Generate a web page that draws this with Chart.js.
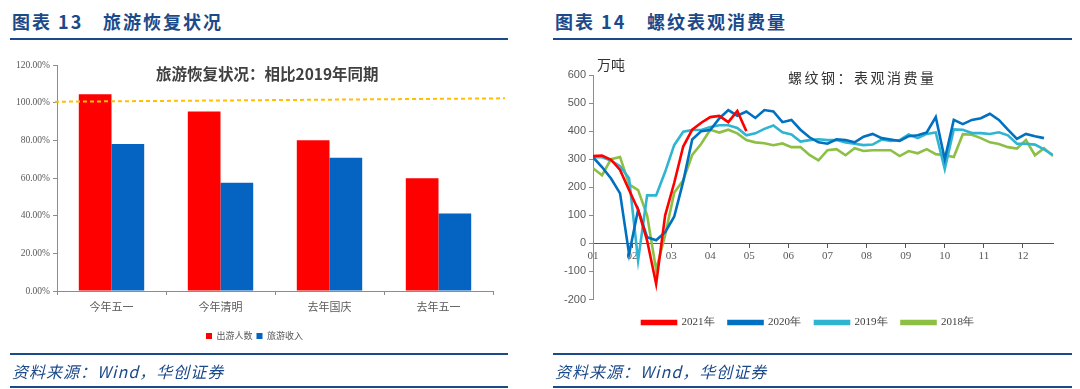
<!DOCTYPE html>
<html>
<head>
<meta charset="utf-8">
<script src="https://cdn.jsdelivr.net/npm/chart.js@4.4.1/dist/chart.umd.min.js"></script>
<style>
  body { margin: 0; width: 1080px; height: 389px; background: #fff; position: relative; overflow: hidden; }
  .hd { position: absolute; top: 8px; font: bold 18px "Noto Sans CJK SC", sans-serif; color: #1b4a8a; white-space: pre; letter-spacing: 2px; }
  .rule { position: absolute; height: 2px; background: #1b4a8a; }
  .src { position: absolute; top: 359px; font: italic 16px "Noto Sans CJK SC", serif; color: #1b4a8a; letter-spacing: 1px; }
  .box { position: absolute; top: 45px; }
  .inner { position: absolute; color: #404040; white-space: nowrap; }
</style>
</head>
<body>
<div class="hd" style="left:12px">图表 13</div>
<div class="hd" style="left:103px">旅游恢复状况</div>
<div class="rule" style="left:10px;width:498px;top:38px"></div>
<div class="hd" style="left:555px">图表 14</div>
<div class="hd" style="left:647px">螺纹表观消费量</div>
<div class="rule" style="left:553px;width:519px;top:38px"></div>

<div class="box" style="left:10px;width:500px;height:310px"><canvas id="barChart"></canvas></div>
<div class="box" style="left:553px;width:519px;height:305px"><canvas id="lineChart"></canvas></div>

<div class="inner" style="left:156px;top:62px;font:bold 15.5px 'Noto Sans CJK SC'">旅游恢复状况：相比2019年同期</div>
<div class="inner" style="left:788px;top:67px;font:14px 'Noto Sans CJK SC';letter-spacing:2.5px;color:#333">螺纹钢：表观消费量</div>
<div class="inner" style="left:597px;top:54px;font:14px 'Noto Sans CJK SC';color:#333">万吨</div>

<div class="rule" style="left:10px;width:498px;top:353px"></div>
<div class="src" style="left:12px">资料来源：Wind，华创证券</div>
<div class="rule" style="left:10px;width:498px;top:386px"></div>
<div class="rule" style="left:553px;width:519px;top:353px"></div>
<div class="src" style="left:555px">资料来源：Wind，华创证券</div>
<div class="rule" style="left:553px;width:519px;top:386px"></div>

<script>
// 旅游恢复状况 (相比2019年同期, %)
const barCats = ["今年五一", "今年清明", "去年国庆", "去年五一"];
const visitors = [104.5, 95.3, 80.0, 59.9];
const revenue = [78.0, 57.5, 70.8, 41.2];
const refLine = [100.5, 102.3]; // 100% dotted reference, slightly tilted

// 螺纹钢表观消费量 (万吨, weekly)
const monthLabels = ["01", "02", "03", "04", "05", "06", "07", "08", "09", "10", "11", "12"];
const s2021 = [311, 313, 298, 262, 190, 120, 10, -145, 100, 215, 345, 405, 430, 450, 454, 432, 472, 400];
const s2020 = [307, 272, 231, 178, -38, 120, 22, 11, 40, 95, 220, 370, 400, 404, 445, 475, 455, 470, 447, 475,
  470, 432, 440, 405, 378, 360, 355, 371, 368, 360, 380, 390, 375, 370, 365, 382, 385, 395, 450, 300,
  440, 425, 440, 446, 462, 440, 405, 372, 390, 382, 375];
const s2019 = [307, 307, 295, 275, 232, -61, 171, 171, 255, 350, 398, 404, 404, 415, 421, 421, 411, 385, 392, 408,
  420, 396, 388, 363, 368, 371, 368, 368, 360, 355, 350, 352, 370, 365, 368, 388, 375, 390, 395, 265,
  406, 405, 393, 393, 390, 396, 385, 355, 355, 352, 335, 315];
const s2018 = [268, 243, 300, 308, 210, 190, 100, -95, 30, 180, 225, 315, 355, 405, 395, 405, 392, 368, 360, 357,
  350, 356, 343, 343, 315, 296, 332, 336, 314, 339, 329, 332, 332, 332, 311, 329, 321, 336, 318, 314,
  308, 389, 387, 375, 360, 354, 343, 338, 368, 314, 339, 311];

const grey = "#595959";
const axisGrey = "#8c8c8c";

// dotted 100% line across the bar chart
const refLinePlugin = {
  id: "refLine",
  afterDatasetsDraw(chart) {
    const { ctx, chartArea, scales } = chart;
    ctx.save();
    ctx.strokeStyle = "#ffc000";
    ctx.lineWidth = 2;
    ctx.setLineDash([4, 3]);
    ctx.beginPath();
    ctx.moveTo(chartArea.left - 2, scales.y.getPixelForValue(refLine[0]));
    ctx.lineTo(chartArea.right + 12, scales.y.getPixelForValue(refLine[1]));
    ctx.stroke();
    ctx.restore();
  },
};

new Chart(document.getElementById("barChart"), {
  type: "bar",
  data: {
    labels: barCats,
    datasets: [
      { label: "出游人数", data: visitors, backgroundColor: "#ff0000" },
      { label: "旅游收入", data: revenue, backgroundColor: "#0563c1" },
    ],
  },
  options: {
    responsive: true,
    maintainAspectRatio: false,
    animation: false,
    layout: { padding: { top: 20, right: 17, bottom: 4.5, left: 6 } },
    datasets: { bar: { categoryPercentage: 0.6, barPercentage: 1.0 } },
    plugins: {
      legend: {
        position: "bottom",
        title: { display: true, text: "", padding: 0, font: { size: 8.5, lineHeight: 1 } },
        labels: { boxWidth: 6, boxHeight: 6, padding: 4, color: grey, font: { size: 9, family: "Noto Sans CJK SC" } },
      },
      tooltip: { enabled: false },
    },
    scales: {
      x: {
        grid: { drawOnChartArea: false, color: axisGrey, tickLength: 4 },
        border: { color: axisGrey },
        ticks: { color: grey, font: { size: 11, family: "Noto Sans CJK SC" }, padding: 5 },
        afterFit: (s) => { s.height = 28; },
      },
      y: {
        min: 0,
        max: 120,
        ticks: { stepSize: 20, color: grey, font: { size: 9.5, family: "Liberation Serif" }, padding: 3,
          callback: (v) => v.toFixed(2) + "%" },
        grid: { drawOnChartArea: false, color: axisGrey, tickLength: 4 },
        border: { color: axisGrey },
        afterFit: (s) => { s.width = 41; },
      },
    },
  },
  plugins: [refLinePlugin],
});

const weeks = s2018.map((_, i) => i);
const weeksPerMonth = 52 / 12;

new Chart(document.getElementById("lineChart"), {
  type: "line",
  data: {
    labels: weeks,
    datasets: [
      { label: "2021年", data: s2021, borderColor: "#ff0000", backgroundColor: "#ff0000" },
      { label: "2020年", data: s2020, borderColor: "#0070c0", backgroundColor: "#0070c0" },
      { label: "2019年", data: s2019, borderColor: "#2fb4d2", backgroundColor: "#2fb4d2" },
      { label: "2018年", data: s2018, borderColor: "#8dbf45", backgroundColor: "#8dbf45" },
    ],
  },
  options: {
    responsive: true,
    maintainAspectRatio: false,
    animation: false,
    elements: { point: { radius: 0 }, line: { borderWidth: 2.6, tension: 0 } },
    layout: { padding: { top: 30, right: 19, bottom: 12, left: 10 } },
    plugins: {
      legend: {
        position: "bottom",
        title: { display: true, text: "", padding: 0, font: { size: 3.5, lineHeight: 1 } },
        labels: { boxWidth: 34, boxHeight: 3, padding: 14, color: "#404040", font: { size: 11, family: "Liberation Serif" } },
      },
      tooltip: { enabled: false },
    },
    scales: {
      x: {
        type: "linear",
        min: 0,
        max: 51,
        position: { y: 0 },
        afterBuildTicks: (s) => { s.ticks = monthLabels.map((_, i) => ({ value: i * weeksPerMonth })); },
        ticks: { color: grey, font: { size: 11, family: "Liberation Serif" }, padding: 2,
          callback: (v, i) => monthLabels[i] },
        grid: { drawOnChartArea: false, color: "#555", tickLength: 4 },
        border: { color: "#555" },
      },
      y: {
        min: -200,
        max: 600,
        ticks: { stepSize: 100, color: grey, font: { size: 11, family: "Liberation Sans" }, padding: 3 },
        grid: { drawOnChartArea: false, color: axisGrey, tickLength: 4 },
        border: { color: axisGrey },
        afterFit: (s) => { s.width = 30; },
      },
    },
  },
});
</script>
</body>
</html>
